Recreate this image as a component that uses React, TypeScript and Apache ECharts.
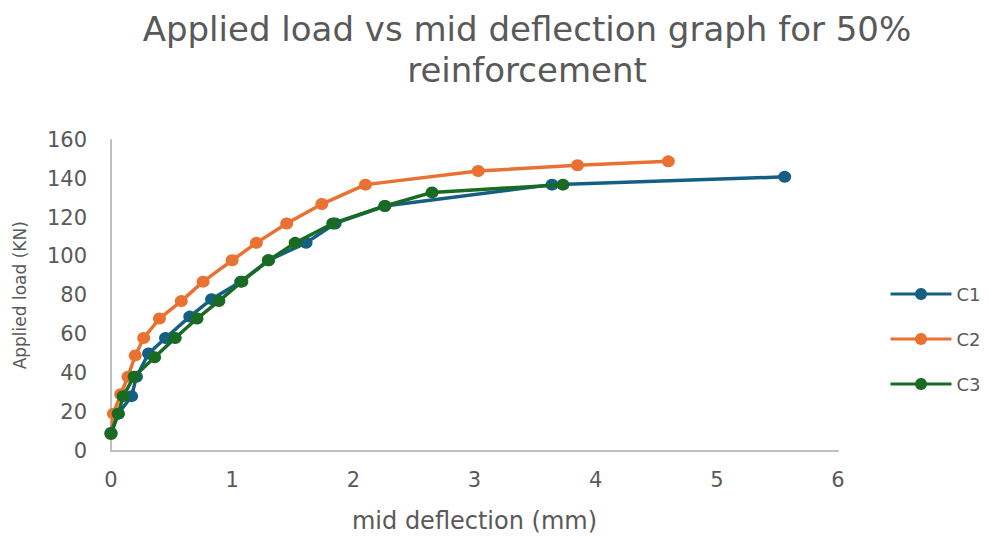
import React, { useEffect, useRef } from "react";
import * as echarts from "echarts";

// Mid deflection (mm) / applied load (KN) readings per specimen
const c1Deflection = [0, 0.06, 0.17, 0.21, 0.31, 0.45, 0.65, 0.83, 1.07, 1.30, 1.61, 1.85, 2.26, 3.64, 5.56];
const c1Load = [9, 19, 28, 38, 50, 58, 69, 78, 87, 98, 107, 117, 126, 137, 141];

const c2Deflection = [0, 0.02, 0.08, 0.14, 0.2, 0.27, 0.40, 0.58, 0.76, 1.0, 1.20, 1.45, 1.74, 2.10, 3.03, 3.85, 4.60];
const c2Load = [9, 19, 29, 38, 49, 58, 68, 77, 87, 98, 107, 117, 127, 137, 144, 147, 149];

const c3Deflection = [0, 0.06, 0.10, 0.19, 0.36, 0.53, 0.71, 0.89, 1.08, 1.30, 1.52, 1.83, 2.26, 2.65, 3.73];
const c3Load = [8.5, 19, 28, 38, 48, 58, 68, 77, 87, 98, 107, 117, 126, 133, 137];

const seriesNames = ["C1", "C2", "C3"];
const seriesColors = ["#156082", "#E97132", "#196B24"];

const titleText = "Applied load vs mid deflection graph for 50%\nreinforcement";
const xAxisName = "mid deflection (mm)";
const yAxisName = "Applied load (KN)";

const pairs = (xs: number[], ys: number[]) => xs.map((x, i) => [x, ys[i]]);

export default function App() {
  const ref = useRef<HTMLDivElement>(null);

  useEffect(() => {
    if (!ref.current) return;
    const chart = echarts.init(ref.current, undefined, { renderer: "svg" });
    const font = "'DejaVu Sans', sans-serif";
    const grey = "#595959";
    const data = [pairs(c1Deflection, c1Load), pairs(c2Deflection, c2Load), pairs(c3Deflection, c3Load)];

    chart.setOption({
      animation: false,
      backgroundColor: "#ffffff",
      title: {
        text: titleText,
        left: 527,
        textAlign: "center",
        top: 8,
        padding: 0,
        textStyle: {
          fontFamily: font,
          fontSize: 34,
          fontWeight: "normal",
          color: grey,
          lineHeight: 41,
        },
      },
      legend: {
        orient: "vertical",
        left: 889,
        top: 283,
        padding: 0,
        itemWidth: 61,
        itemHeight: 15,
        itemGap: 23,
        data: seriesNames,
        lineStyle: { width: 3 },
        textStyle: { fontFamily: font, fontSize: 18, color: grey, lineHeight: 22, padding: [0, 0, 0, 0] },
      },
      grid: {
        left: 111,
        right: 151,
        top: 140,
        bottom: 85.5,
        containLabel: false,
        outerBoundsMode: "none",
      },
      xAxis: {
        type: "value",
        min: 0,
        max: 6,
        interval: 1,
        name: xAxisName,
        nameLocation: "middle",
        nameGap: 58,
        nameTextStyle: { fontFamily: font, fontSize: 24, color: grey },
        axisLine: { show: true, lineStyle: { color: "#bfbfbf", width: 2 } },
        axisTick: { show: false },
        splitLine: { show: false },
        axisLabel: { fontFamily: font, fontSize: 21, color: grey, margin: 19 },
      },
      yAxis: {
        type: "value",
        min: 0,
        max: 160,
        interval: 20,
        name: yAxisName,
        nameLocation: "middle",
        nameGap: 83,
        nameTextStyle: { fontFamily: font, fontSize: 17, color: grey },
        axisLine: { show: true, lineStyle: { color: "#bfbfbf", width: 2 } },
        axisTick: { show: false },
        splitLine: { show: false },
        axisLabel: { fontFamily: font, fontSize: 21, color: grey, margin: 24 },
      },
      series: seriesNames.map((name, i) => ({
        name,
        type: "line",
        data: data[i],
        symbol: "circle",
        symbolSize: [13, 12],
        color: seriesColors[i],
        lineStyle: { width: 3.5, color: seriesColors[i] },
        itemStyle: { color: seriesColors[i] },
        z: i === 2 ? 4 : i === 0 ? 3 : 2,
      })),
    });

    return () => chart.dispose();
  }, []);

  return (
    <div
      ref={ref}
      style={{ position: "fixed", left: 0, top: 0, width: 989, height: 536 }}
    />
  );
}
